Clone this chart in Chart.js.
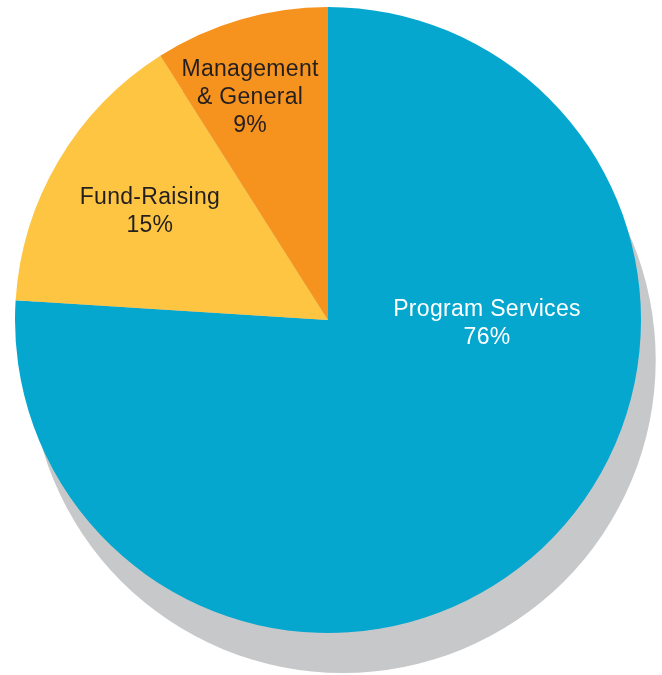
<!DOCTYPE html>
<html>
<head>
<meta charset="utf-8">
<script src="https://cdn.jsdelivr.net/npm/chart.js@4/dist/chart.umd.min.js"></script>
<style>
  html, body { margin: 0; padding: 0; background: #fff; }
  canvas { display: block; }
</style>
</head>
<body>
<canvas id="pie" width="662" height="675"></canvas>
<script>
// data
const categories = ['Program Services', 'Fund-Raising', 'Management & General'];
const shares = [76, 15, 9];
const labelLines = [['Program Services', '76%'], ['Fund-Raising', '15%'], ['Management', '& General', '9%']];

// styling
const sliceColors = ['#06a7cf', '#fdc541', '#f6921e'];
const textColors = ['#ffffff', '#231f20', '#231f20'];
// label anchors, in units of the pie radius from the centre
const labelAnchors = [[0.508, 0.011], [-0.569, -0.345], [-0.249, -0.709]];

// grey drop shadow under the pie
const shadowPlugin = {
  id: 'shadow',
  beforeDatasetsDraw(chart) {
    const arc = chart.getDatasetMeta(0).data[0];
    if (!arc) return;
    const { x, y, outerRadius } = arc.getProps(['x', 'y', 'outerRadius'], true);
    const ctx = chart.ctx;
    ctx.save();
    ctx.fillStyle = '#c7c8ca';
    ctx.beginPath();
    ctx.arc(x + outerRadius * 0.047, y + outerRadius * 0.128, outerRadius, 0, Math.PI * 2);
    ctx.fill();
    ctx.restore();
  }
};

// labels drawn inside the slices
const labelPlugin = {
  id: 'sliceLabels',
  afterDatasetsDraw(chart) {
    const ctx = chart.ctx;
    const meta = chart.getDatasetMeta(0);
    ctx.save();
    ctx.font = '23px "Liberation Sans", Arial, sans-serif';
    ctx.letterSpacing = '0.3px';
    ctx.textAlign = 'center';
    ctx.textBaseline = 'middle';
    const lineH = 28;
    meta.data.forEach((arc, i) => {
      const { x, y, outerRadius } = arc.getProps(['x', 'y', 'outerRadius'], true);
      const cx = x + labelAnchors[i][0] * outerRadius;
      const cy = y + labelAnchors[i][1] * outerRadius;
      const lines = labelLines[i];
      ctx.fillStyle = textColors[i];
      lines.forEach((t, j) => {
        ctx.fillText(t, cx, cy + (j - (lines.length - 1) / 2) * lineH);
      });
    });
    ctx.restore();
  }
};

new Chart(document.getElementById('pie'), {
  type: 'pie',
  data: {
    labels: categories,
    datasets: [{
      data: shares,
      backgroundColor: sliceColors,
      borderWidth: 0,
      hoverOffset: 0
    }]
  },
  options: {
    responsive: false,
    animation: false,
    layout: { padding: { left: 15, top: 7, right: 21, bottom: 42 } },
    plugins: {
      legend: { display: false },
      tooltip: { enabled: false }
    }
  },
  plugins: [shadowPlugin, labelPlugin]
});
</script>
</body>
</html>
